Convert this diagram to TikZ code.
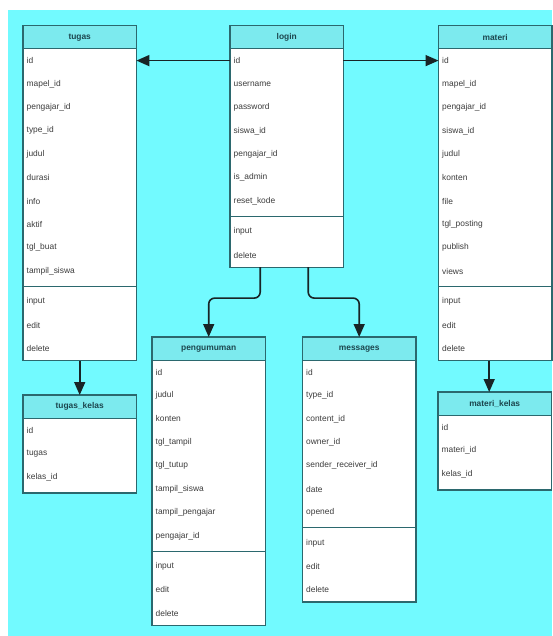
\documentclass[tikz,border=0pt]{standalone}
\usepackage{fontspec}
\setmainfont{Liberation Sans}
\usetikzlibrary{arrows.meta}

\definecolor{bgcyan}{RGB}{114,250,255}
\definecolor{headcyan}{RGB}{124,234,238}
\definecolor{frameteal}{RGB}{43,104,110}
\definecolor{rowgray}{RGB}{60,60,60}
\definecolor{titleteal}{RGB}{28,70,78}
\definecolor{linkdark}{RGB}{24,36,38}

\tikzset{
  classbody/.style={fill=white, inner sep=0pt, minimum width=113pt},
  frameline/.style={draw=frameteal, line width=1.2pt},
  headband/.style={fill=headcyan},
  classtitle/.style={font=\fontsize{8.4}{10}\selectfont\bfseries, text=titleteal, inner sep=0pt},
  rowtext/.style={font=\fontsize{8.4}{10}\selectfont, text=rowgray, inner sep=0pt, anchor=west},
  link/.style={draw=linkdark, line width=1.6pt, -{Triangle[length=13pt,width=11pt]}},
}

% UML class box: name, left x, top y, title, attributes, operations (may be empty)
\newcommand\umlclass[6]{%
  \gdef\nattr{0}\gdef\nmeth{0}%
  \foreach \a in {#5}{\xdef\nattr{\the\numexpr\nattr+1\relax}}%
  \if\relax\detokenize{#6}\relax\else
    \foreach \a in {#6}{\xdef\nmeth{\the\numexpr\nmeth+1\relax}}%
  \fi
  \ifnum\nmeth=0
    \pgfmathsetmacro\boxh{23.4*(1+\nattr)+4}%
  \else
    \pgfmathsetmacro\boxh{23.4*(1+\nattr+\nmeth)+7.2}%
  \fi
  \pgfmathsetmacro\divy{23.4*(1+\nattr)+3.6}%
  \pgfmathsetmacro\opsy{23.4*(1+\nattr)+7.2}%
  \node[classbody, minimum height=\boxh pt, anchor=north west] (#1) at (#2,#3) {};
  \fill[headband] (#1.north west) rectangle ([yshift=-23.4pt]#1.north east);
  \node[classtitle] (#1-title) at ([yshift=-11.7pt]#1.north) {#4};
  \draw[frameline] ([yshift=-23.4pt]#1.north west) -- ([yshift=-23.4pt]#1.north east);
  \foreach \a [count=\i] in {#5}{
    \node[rowtext] (#1-r\i) at ([xshift=3.5pt, yshift={-(23.4*\i+11.7)*1pt}]#1.north west) {\a};
  }
  \ifnum\nmeth>0
    \draw[frameline] ([yshift=-\divy pt]#1.north west) -- ([yshift=-\divy pt]#1.north east);
    \foreach \a [count=\j] in {#6}{
      \node[rowtext] (#1-m\j) at ([xshift=3.5pt, yshift={-(\opsy+23.4*\j-11.7)*1pt}]#1.north west) {\a};
    }
  \fi
  \draw[frameline] (#1.north west) rectangle (#1.south east);
}

\begin{document}
\begin{tikzpicture}[x=1pt, y=-1pt]
  \useasboundingbox (0,0) rectangle (552,636);
  \fill[bgcyan] (8,10) rectangle (552,636);

  \umlclass{tugas}{23}{25.5}{tugas}
    {id,mapel\_id,pengajar\_id,type\_id,judul,durasi,info,aktif,tgl\_buat,tampil\_siswa}
    {input,edit,delete}
  \umlclass{login}{230}{25.5}{login}
    {id,username,password,siswa\_id,pengajar\_id,is\_admin,reset\_kode}
    {input,delete}
  \umlclass{materi}{438.5}{25.5}{materi}
    {id,mapel\_id,pengajar\_id,siswa\_id,judul,konten,file,tgl\_posting,publish,views}
    {input,edit,delete}
  \umlclass{pengumuman}{152}{337}{pengumuman}
    {id,judul,konten,tgl\_tampil,tgl\_tutup,tampil\_siswa,tampil\_pengajar,pengajar\_id}
    {input,edit,delete}
  \umlclass{messages}{302.5}{337}{messages}
    {id,type\_id,content\_id,owner\_id,sender\_receiver\_id,date,opened}
    {input,edit,delete}
  \umlclass{tugaskelas}{23}{395}{tugas\_kelas}
    {id,tugas,kelas\_id}
    {}
  \umlclass{materikelas}{438}{392}{materi\_kelas}
    {id,materi\_id,kelas\_id}
    {}

  % relations from login
  \draw[link] (login.west |- login-r1) -- (tugas.east |- login-r1);
  \draw[link] (login.east |- login-r1) -- (materi.west |- login-r1);
  \draw[link, rounded corners=6pt]
    ([xshift=-26.5pt]login.south) -- ++(0,31) -| (pengumuman.north);
  \draw[link, rounded corners=6pt]
    ([xshift=21.5pt]login.south) -- ++(0,31) -| (messages.north);

  % detail tables
  \draw[link] (tugas.south) -- (tugaskelas.north);
  \draw[link] ([xshift=-6pt]materi.south) -- ([xshift=-6pt]materi.south |- materikelas.north);
\end{tikzpicture}
\end{document}
